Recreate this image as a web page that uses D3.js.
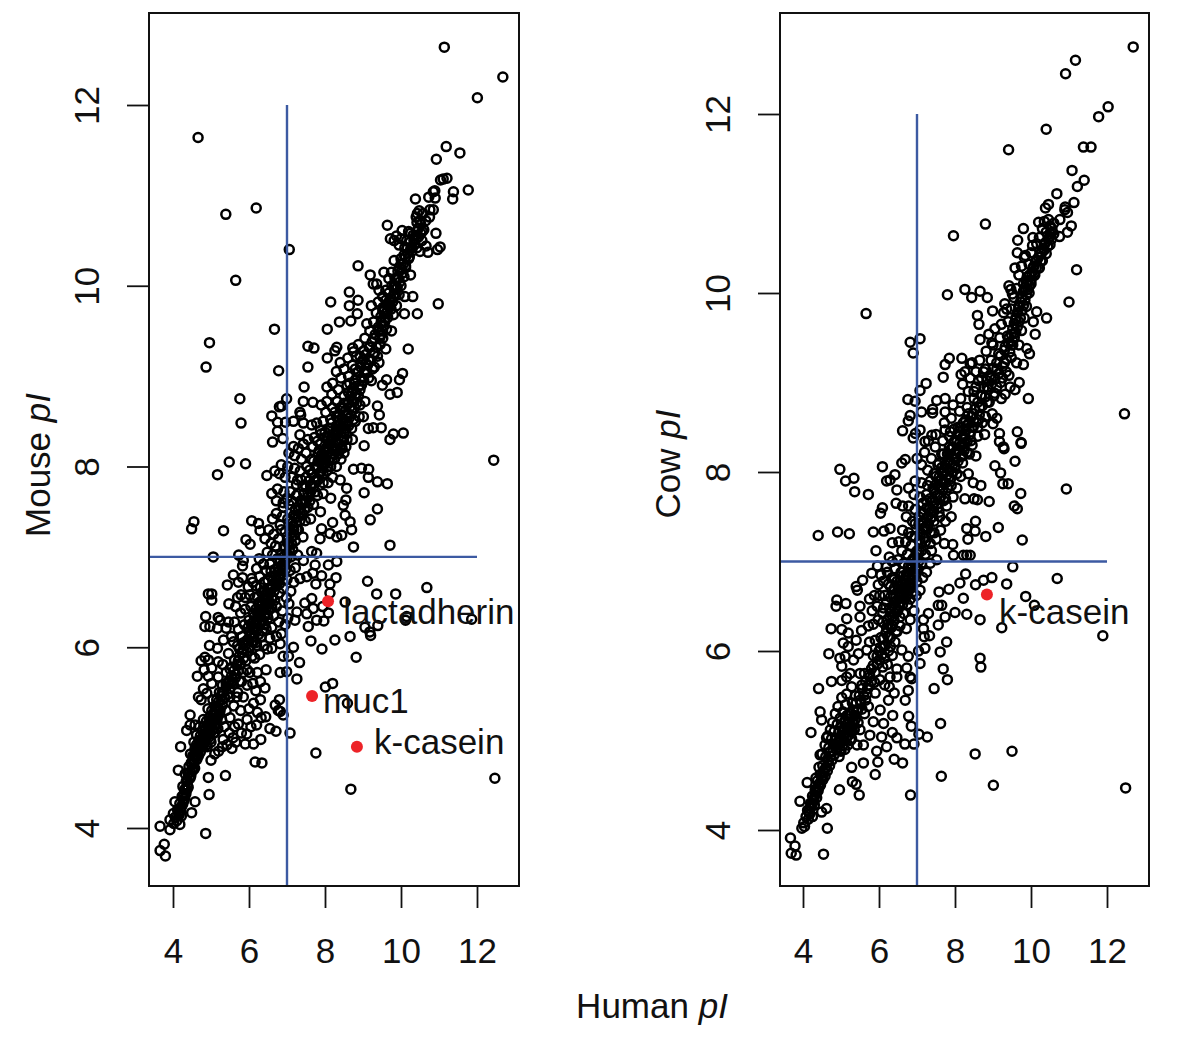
<!DOCTYPE html>
<html><head><meta charset="utf-8">
<script src="https://cdnjs.cloudflare.com/ajax/libs/d3/7.8.5/d3.min.js"></script>
<style>html,body{margin:0;padding:0;background:#fff}svg{display:block}text{font-family:"Liberation Sans",Arial,sans-serif;fill:#111}</style>
</head><body><script>
const xTicks=[4,6,8,10,12];
const yTicks=[4,6,8,10,12];
const mouseSparse=[[11.14,12.64],[12.68,12.31],[12.01,12.08],[4.66,11.64],[11.19,11.54],[11.55,11.47],[10.93,11.40],[11.21,11.19],[11.11,11.18],[11.04,11.17],[11.38,11.04],[11.36,10.96],[11.77,11.06],[10.89,11.05],[10.85,11.04],[10.73,10.98],[10.90,10.97],[10.38,10.96],[10.85,10.84],[10.76,10.84],[10.48,10.83],[10.43,10.80],[10.40,10.76],[10.75,10.76],[6.19,10.86],[5.39,10.79],[7.06,10.40],[9.64,10.67],[10.03,10.61],[10.92,10.58],[11.03,10.43],[10.96,10.40],[10.71,10.37],[10.5,10.38],[10.66,10.44],[5.65,10.06],[8.87,10.22],[9.19,10.12],[9.27,10.02],[9.36,10.02],[8.64,9.93],[8.15,9.82],[8.87,9.84],[8.64,9.78],[8.85,9.69],[8.68,9.61],[8.38,9.6],[8.06,9.52],[6.67,9.52],[4.96,9.37],[4.87,9.1],[6.78,9.06],[7.55,9.33],[7.71,9.31],[8.31,9.32],[8.26,9.28],[8.73,9.31],[8.75,9.27],[8.06,9.2],[8.4,9.15],[7.55,9.1],[10.19,9.3],[10.98,9.8],[10.43,9.69],[10.31,9.88],[10.09,9.69],[10.04,9.03],[9.96,8.96],[9.9,8.82],[9.71,8.8],[9.62,8.96],[9.51,8.9],[7.45,8.88],[5.76,8.75],[5.79,8.48],[6.99,8.75],[6.86,8.67],[6.8,8.66],[6.6,8.56],[6.75,8.49],[6.75,8.39],[6.89,8.31],[6.62,8.27],[6.96,8.49],[7.17,8.5],[7.43,8.72],[7.68,8.71],[7.34,8.6],[7.36,8.57],[7.43,8.48],[7.65,8.46],[7.34,8.35],[7.43,8.25],[7.17,8.22],[9.38,8.67],[9.43,8.57],[9.48,8.43],[9.27,8.43],[9.14,8.42],[9.01,8.55],[10.06,8.37],[9.8,8.36],[9.71,8.3],[9.03,8.23],[12.44,8.07],[5.48,8.05],[5.91,8.03],[5.17,7.91],[6.47,7.9],[9.64,7.81],[9.38,7.83],[9.14,7.88],[9.15,7.97],[8.96,7.98],[8.75,7.97],[9.03,7.71],[9.38,7.53],[9.19,7.41],[8.57,7.76],[8.55,7.63],[8.48,7.57],[8.53,7.46],[8.66,7.39],[8.7,7.3],[8.44,7.24],[8.31,7.22],[8.13,7.26],[8.2,7.38],[7.91,7.31],[7.87,7.2],[9.71,7.13],[8.75,7.11],[4.55,7.39],[4.49,7.31],[5.33,7.29],[6.07,7.4],[6.25,7.37],[6.29,7.29],[5.92,7.19],[6.03,7.14],[5.06,7.0],[5.73,7.02],[5.85,6.96],[5.83,6.9],[6.27,6.98],[6.2,6.87],[5.59,6.8],[5.43,6.69],[5.72,6.72],[5.83,6.77],[6.07,6.76],[5.98,6.67],[4.93,6.59],[5.02,6.59],[5.02,6.52],[5.79,6.58],[5.47,6.48],[4.86,6.34],[4.84,6.23],[4.97,6.23],[5.19,6.33],[5.17,6.21],[5.4,6.21],[5.24,6.3],[5.46,6.28],[5.33,6.08],[4.96,6.02],[5.17,5.99],[5.54,6.12],[5.59,6.06],[4.84,5.89],[4.74,5.85],[4.93,5.86],[5.19,5.84],[5.31,5.81],[5.46,5.93],[4.82,5.75],[5.02,5.77],[4.64,5.68],[4.93,5.68],[5.19,5.67],[4.8,5.54],[5.02,5.6],[4.67,5.45],[4.74,5.42],[4.89,5.49],[4.45,5.25],[4.45,5.14],[4.36,5.08],[4.58,5.14],[4.2,4.9],[4.14,4.64],[4.93,4.56],[5.38,4.58],[4.95,4.37],[6.16,4.73],[6.34,4.72],[5.9,4.93],[6.12,4.93],[6.31,4.98],[5.94,5.04],[7.08,5.05],[6.71,5.07],[6.55,5.1],[6.2,5.14],[6.44,5.23],[6.82,5.29],[6.9,5.25],[6.77,5.3],[6.69,5.36],[6.8,5.42],[7.76,4.83],[8.68,4.43],[12.47,4.55],[4.86,3.94],[3.66,4.02],[3.92,3.98],[3.77,3.82],[3.66,3.75],[3.8,3.69],[4.01,4.16],[4.18,4.04],[3.92,4.09],[4.05,4.29],[4.49,4.17],[4.58,4.29],[7.26,5.65],[6.82,5.72],[6.99,5.73],[7.33,5.83],[6.9,5.9],[7.04,5.9],[7.17,6.0],[6.82,6.04],[6.6,5.99],[8.01,5.56],[8.2,5.6],[8.59,5.38],[8.82,5.89],[7.92,5.98],[7.63,6.07],[8.26,6.08],[8.66,6.12],[7.56,6.23],[7.78,6.3],[7.97,6.29],[8.09,6.38],[7.69,6.43],[7.52,6.37],[7.47,6.49],[7.65,6.54],[7.94,6.45],[7.21,6.3],[7.26,6.39],[8.53,6.5],[9.36,6.59],[9.86,6.59],[9.12,6.73],[10.68,6.66],[10.12,6.3],[10.15,6.34],[11.86,6.31],[9.18,6.17],[9.2,6.13],[9.05,6.22],[9.39,6.24],[8.13,6.7],[8.29,6.77],[7.91,6.79],[7.76,6.7],[7.52,6.78],[7.68,6.82],[7.34,6.76],[8.13,6.6],[7.74,6.91],[8.09,6.91],[8.31,6.95],[7.43,6.96],[7.78,7.04],[7.65,7.06]];
const mouseBandLow=[[4.02,4.05],[4.06,4.12],[4.1,4.08],[4.12,4.2],[4.15,4.16],[4.18,4.27],[4.2,4.22],[4.24,4.35],[4.22,4.13],[4.28,4.3],[4.3,4.42],[4.26,4.46],[4.34,4.38],[4.35,4.52],[4.38,4.47],[4.4,4.6],[4.32,4.6],[4.42,4.68],[4.45,4.55],[4.48,4.72],[4.5,4.65],[4.52,4.8],[4.46,4.82],[4.55,4.75],[4.58,4.88],[4.6,4.78],[4.62,4.92],[4.55,4.95],[4.65,4.84],[4.68,4.97],[4.7,4.88],[4.72,5.02],[4.62,5.03],[4.75,4.92],[4.78,5.08],[4.8,4.98],[4.82,5.12],[4.7,5.12],[4.85,5.02],[4.88,5.18],[4.9,4.9],[4.92,5.08],[4.95,5.22],[4.8,5.2],[4.98,5.12],[5.0,4.95],[5.02,5.3],[5.05,5.18],[5.08,5.05],[5.1,5.35],[4.92,5.32],[5.12,5.25],[5.15,5.42],[5.18,5.1],[5.2,5.32],[5.22,5.5],[5.05,5.42],[5.28,5.2],[5.3,5.42],[5.32,4.98],[5.35,5.12],[5.4,5.3],[5.42,4.92],[5.48,5.05],[5.5,5.22],[5.55,4.88],[5.58,5.0],[5.62,5.12],[5.2,4.85],[5.3,4.9],[5.1,4.82],[5.0,4.75],[5.65,4.95],[5.72,5.15],[5.78,5.3],[5.8,5.05],[5.95,5.2],[6.0,5.32],[6.05,5.12],[6.12,5.38],[6.22,5.28],[6.3,5.42],[6.32,5.22],[5.6,5.35],[5.5,5.45],[5.7,5.5],[5.85,5.45],[5.95,5.58],[5.75,5.62],[5.55,5.62],[5.45,5.6],[5.3,5.58],[5.4,5.72],[5.55,5.78],[5.65,5.7],[5.72,5.85],[5.85,5.72],[5.92,5.85],[6.02,5.72],[6.1,5.6],[6.18,5.52],[6.22,5.72],[6.3,5.62],[6.42,5.55],[6.45,5.75],[6.15,5.88],[6.28,5.92],[6.02,6.0],[5.85,5.98],[5.7,6.02],[5.95,6.08],[6.08,6.15],[6.18,6.05],[5.82,6.12],[5.72,6.2],[5.62,6.28],[5.88,6.25],[6.0,6.3],[6.12,6.28],[6.22,6.2],[6.32,6.12],[6.4,6.02],[6.48,5.98],[6.55,6.1],[6.42,6.25],[6.3,6.35],[6.18,6.42],[6.05,6.45],[5.9,6.42],[5.78,6.38],[5.65,6.45],[5.7,6.55],[5.9,6.55],[6.02,6.58],[6.15,6.55],[6.28,6.5],[6.38,6.42],[6.5,6.32],[6.6,6.22],[6.65,6.35],[6.52,6.48],[6.42,6.58],[6.3,6.66],[6.18,6.68],[6.1,6.72],[6.28,6.78],[6.4,6.72],[6.5,6.65],[6.62,6.55],[6.72,6.45],[6.78,6.28],[6.85,6.15],[6.72,6.12],[6.88,6.4],[6.95,6.25],[7.02,6.32],[6.8,6.6],[6.7,6.7],[6.58,6.78],[6.45,6.85],[6.38,6.92],[6.55,6.92],[6.68,6.86],[6.78,6.78],[6.9,6.65],[6.98,6.55],[7.05,6.48],[7.1,6.62],[7.0,6.75],[6.88,6.88],[6.75,6.98],[6.62,7.02],[6.48,7.05],[6.58,7.15],[6.7,7.12],[6.85,7.02],[6.95,6.95],[7.08,6.85],[7.18,6.72],[7.22,6.88],[7.1,7.0]];
const mouseBandHigh=[[6.42,7.2],[6.52,7.3],[6.65,7.25],[6.78,7.2],[6.92,7.12],[7.02,7.15],[7.15,7.08],[7.28,7.02],[7.22,7.18],[7.08,7.3],[6.95,7.28],[6.82,7.35],[6.62,7.42],[6.72,7.48],[6.88,7.45],[7.02,7.42],[7.15,7.38],[7.3,7.3],[7.42,7.22],[7.48,7.4],[7.35,7.48],[7.22,7.52],[7.05,7.58],[6.9,7.6],[6.72,7.62],[6.6,7.7],[6.75,7.75],[6.92,7.72],[7.08,7.72],[7.25,7.68],[7.38,7.62],[7.55,7.55],[7.62,7.42],[7.7,7.58],[7.55,7.7],[7.42,7.78],[7.28,7.85],[7.12,7.88],[6.95,7.88],[6.8,7.92],[6.68,7.95],[6.85,8.02],[7.02,8.0],[7.2,7.98],[7.35,7.95],[7.5,7.88],[7.65,7.8],[7.8,7.68],[7.88,7.5],[7.95,7.7],[7.82,7.85],[7.68,7.92],[7.52,8.0],[7.38,8.08],[7.2,8.12],[7.05,8.15],[7.3,8.2],[7.5,8.15],[7.65,8.08],[7.8,8.0],[7.95,7.92],[8.08,7.82],[8.15,7.65],[8.2,7.88],[8.08,8.0],[7.95,8.08],[7.82,8.15],[7.68,8.22],[7.55,8.3],[7.72,8.32],[7.88,8.25],[8.0,8.18],[8.15,8.1],[8.3,8.0],[8.4,7.85],[8.42,8.08],[8.28,8.18],[8.12,8.25],[8.0,8.32],[7.88,8.4],[7.78,8.48],[7.95,8.5],[8.1,8.42],[8.22,8.32],[8.35,8.25],[8.5,8.15],[8.58,8.3],[8.42,8.38],[8.3,8.45],[8.15,8.52],[8.02,8.6],[7.9,8.68],[8.05,8.72],[8.2,8.65],[8.35,8.55],[8.48,8.48],[8.62,8.45],[8.72,8.3],[8.75,8.52],[8.6,8.58],[8.48,8.65],[8.32,8.72],[8.18,8.8],[8.05,8.88],[8.2,8.92],[8.35,8.85],[8.5,8.78],[8.62,8.7],[8.78,8.65],[8.9,8.55],[8.88,8.78],[8.72,8.82],[8.58,8.9],[8.42,8.98],[8.3,9.05],[8.5,9.08],[8.62,9.0],[8.78,8.92],[8.92,8.85],[9.05,8.72],[9.02,8.95],[8.88,9.05],[8.72,9.12],[8.6,9.2],[8.82,9.22],[8.95,9.15],[9.1,9.05],[9.22,8.95],[9.3,9.1],[9.15,9.18],[9.02,9.28],[8.88,9.35],[9.05,9.42],[9.18,9.32],[9.3,9.25],[9.42,9.15],[9.45,9.35],[9.3,9.42],[9.18,9.5],[9.1,9.58],[9.28,9.6],[9.4,9.5],[9.52,9.42],[9.6,9.3],[9.62,9.52],[9.48,9.6],[9.35,9.7],[9.22,9.78],[9.4,9.82],[9.52,9.72],[9.65,9.65],[9.75,9.5],[9.8,9.68],[9.65,9.8],[9.52,9.88],[9.42,9.95],[9.6,9.95],[9.75,9.85],[9.88,9.78],[9.95,9.9],[9.82,10.0],[9.68,10.08],[9.55,10.15],[9.75,10.15],[9.88,10.08],[10.0,10.0],[10.1,9.88],[10.08,10.1],[9.95,10.2],[9.82,10.28],[10.0,10.3],[10.12,10.2],[10.25,10.12],[10.22,10.32],[10.1,10.42],[9.95,10.45],[9.82,10.5],[9.72,10.52],[9.88,10.55],[10.0,10.52],[10.15,10.5],[10.3,10.42],[10.38,10.55],[10.25,10.58],[10.42,10.42],[10.55,10.5],[10.52,10.68],[10.42,10.7],[10.6,10.62],[10.58,10.8],[10.65,10.72],[10.2,10.6]];
const mouseCore=[[4.16,4.14],[4.2,4.19],[4.23,4.24],[4.26,4.27],[4.28,4.36],[4.31,4.33],[4.33,4.44],[4.36,4.42],[4.38,4.52],[4.4,4.45],[4.43,4.55],[4.45,4.62],[4.47,4.58],[4.5,4.7],[4.53,4.64],[4.55,4.72],[4.57,4.66],[4.6,4.84],[4.63,4.76],[4.65,4.9],[4.67,4.8],[4.7,4.94],[4.72,4.84],[4.74,4.98],[4.76,4.9],[4.78,4.93],[4.8,5.02],[4.83,4.94],[4.85,5.08],[4.87,4.98],[4.9,5.14],[4.93,5.0],[4.95,5.16],[4.97,5.05],[5.0,5.2],[5.03,5.08],[5.05,5.26],[5.08,5.14],[5.1,5.3],[5.13,5.2],[5.15,5.34],[5.18,5.24],[5.2,5.4],[5.24,5.3],[5.26,5.46],[5.3,5.36],[5.33,5.5],[5.36,5.44],[5.4,5.56],[5.44,5.48],[5.47,5.62],[5.5,5.54],[5.54,5.68],[5.58,5.6],[5.6,5.74],[5.64,5.66],[5.68,5.8],[5.72,5.74],[5.74,5.9],[5.78,5.82],[5.82,5.94],[5.86,5.88],[5.9,6.02],[5.94,5.95],[5.97,6.08],[6.0,6.0],[6.03,6.14],[6.07,6.06],[6.1,6.2],[6.13,6.12],[6.16,6.26],[6.2,6.18],[6.23,6.36],[6.27,6.26],[6.3,6.42],[6.33,6.3],[6.36,6.48],[6.4,6.36],[6.43,6.54],[6.46,6.44],[6.5,6.6],[6.53,6.5],[6.56,6.66],[6.6,6.56],[6.63,6.74],[6.66,6.62],[6.7,6.8],[6.73,6.68],[6.76,6.88],[6.8,6.76],[6.82,6.94],[6.86,6.82],[6.9,7.0],[6.93,6.9],[6.96,7.1],[7.0,6.98],[7.03,7.2],[7.06,7.08],[7.1,7.26],[7.13,7.14],[7.16,7.34],[7.2,7.24],[7.22,7.44],[7.26,7.3],[7.3,7.52],[7.34,7.4],[7.36,7.62],[7.4,7.48],[7.44,7.7],[7.48,7.6],[7.5,7.78],[7.54,7.66],[7.58,7.84],[7.62,7.72],[7.66,7.92],[7.7,7.78],[7.74,8.0],[7.78,7.86],[7.82,8.06],[7.86,7.92],[7.9,8.12],[7.94,7.98],[7.98,8.16],[8.02,8.04],[8.06,8.22],[8.1,8.06],[8.14,8.28],[8.18,8.14],[8.22,8.36],[8.26,8.2],[8.3,8.4],[8.34,8.26],[8.38,8.46],[8.42,8.3],[8.46,8.52],[8.5,8.38],[8.54,8.62],[8.57,8.46],[8.6,8.7],[8.64,8.54],[8.67,8.78],[8.7,8.62],[8.73,8.86],[8.76,8.72],[8.8,8.96],[8.83,8.8],[8.86,9.04],[8.9,8.9],[8.94,9.1],[8.97,8.98],[9.0,9.18],[9.04,9.04],[9.08,9.24],[9.12,9.12],[9.16,9.32],[9.2,9.18],[9.24,9.38],[9.28,9.26],[9.32,9.46],[9.36,9.32],[9.4,9.54],[9.44,9.42],[9.47,9.66],[9.5,9.5],[9.53,9.76],[9.57,9.6],[9.6,9.84],[9.64,9.72],[9.68,9.92],[9.72,9.78],[9.76,10.0],[9.8,9.88],[9.84,10.08],[9.88,9.96],[9.92,10.16],[9.96,10.04],[10.0,10.24],[10.04,10.14],[10.08,10.34],[10.12,10.22],[10.16,10.42],[10.2,10.3],[10.24,10.48],[10.28,10.38],[10.32,10.56],[10.36,10.46],[10.42,10.6],[10.46,10.54],[10.5,10.72],[10.56,10.6],[7.95,7.82],[8.05,7.95],[8.15,8.0],[8.25,8.08],[8.35,8.14],[8.45,8.2],[8.55,8.22],[7.75,7.72],[7.6,7.62],[7.85,8.18],[8.0,8.38],[8.15,8.42],[8.3,8.55],[8.4,8.65],[8.5,8.7],[8.62,8.82],[8.65,8.92],[8.8,9.08],[8.92,9.22],[9.08,9.14],[8.7,8.42],[8.8,8.5],[8.92,8.68],[9.15,8.98],[9.25,9.08],[9.38,9.22],[6.85,7.3],[6.9,7.55],[7.0,7.65],[7.12,7.62],[7.25,7.8],[7.38,7.85],[6.4,6.62],[6.25,6.48],[6.12,6.38],[5.98,6.22],[5.85,6.05],[5.75,5.98],[5.62,5.86],[5.5,5.76],[5.4,5.6],[5.3,5.5],[6.55,6.42],[6.68,6.52],[6.8,6.7],[6.45,6.2],[6.35,6.18],[6.2,6.02],[6.08,5.9],[5.95,5.75],[5.8,5.62],[5.68,5.45]];
const mouseBlobs=[[7.62,7.78],[7.72,7.88],[7.78,7.98],[7.86,8.05],[7.92,8.14],[7.98,8.02],[8.04,8.12],[8.1,8.2],[8.16,8.3],[8.22,8.18],[8.28,8.28],[8.34,8.38],[8.4,8.2],[8.46,8.32],[8.52,8.42],[8.58,8.5],[7.9,7.95],[8.0,8.1],[8.08,8.32],[8.2,8.22],[8.3,8.34],[8.44,8.44],[8.56,8.36],[7.7,8.06],[7.6,7.96],[7.8,8.28],[7.9,8.36],[8.18,8.48],[8.26,8.6],[8.38,8.58],[8.66,8.66],[8.7,8.74],[8.8,8.8],[8.84,8.7],[8.96,8.9],[6.0,6.18],[6.06,6.26],[6.14,6.34],[6.2,6.3],[6.26,6.38],[6.32,6.46],[6.38,6.54],[6.44,6.48],[6.5,6.54],[6.56,6.6],[6.62,6.66],[6.68,6.72],[6.74,6.74],[6.78,6.84],[6.84,6.9],[6.9,6.8],[6.96,6.86],[6.92,6.94],[7.0,7.04],[7.06,7.14],[7.12,7.22],[6.6,6.44],[6.48,6.36],[6.36,6.3],[6.25,6.14],[6.12,6.06],[6.58,6.84],[6.5,6.74],[6.34,6.6],[6.22,6.56],[7.18,7.3],[7.24,7.38],[7.3,7.44],[7.18,7.46],[7.1,7.4],[7.36,7.54],[7.42,7.6],[7.5,7.62],[7.46,7.52],[4.56,4.8],[4.62,4.86],[4.68,4.9],[4.74,4.94],[4.8,4.92],[4.84,5.0],[4.9,5.04],[4.96,5.1],[5.02,5.14],[5.06,5.2],[5.12,5.14],[5.16,5.2],[5.22,5.26],[4.98,4.98],[4.88,4.92],[5.1,5.06],[9.42,9.5],[9.48,9.46],[9.54,9.56],[9.58,9.64],[9.62,9.7],[9.56,9.72],[9.66,9.78],[9.7,9.84],[9.74,9.74],[9.78,9.82],[9.84,9.9],[9.9,9.98],[9.86,10.0],[9.94,10.08],[10.02,10.18],[10.06,10.24],[10.12,10.32],[10.18,10.36],[10.26,10.42],[10.34,10.5],[10.4,10.52],[10.46,10.64],[10.52,10.58]];
const mouseRed=[[8.08,6.51],[7.66,5.46],[8.84,4.9]];
const cowSparse=[[12.69,12.75],[11.17,12.6],[10.91,12.45],[12.03,12.08],[11.78,11.97],[10.4,11.83],[9.41,11.6],[11.58,11.63],[11.38,11.63],[11.08,11.37],[11.4,11.26],[11.22,11.19],[10.68,11.11],[11.13,11.01],[10.9,10.96],[10.89,10.93],[10.96,10.9],[10.46,10.99],[10.38,10.95],[10.76,10.82],[11.06,10.75],[10.96,10.68],[10.75,10.63],[10.46,10.82],[10.2,10.79],[8.8,10.77],[7.96,10.64],[9.8,10.72],[9.65,10.59],[9.64,10.45],[9.82,10.4],[10.04,10.53],[11.2,10.26],[11.0,9.9],[12.46,8.65],[5.66,9.77],[7.8,9.98],[8.26,10.04],[8.44,9.95],[8.66,10.02],[8.85,9.95],[9.47,10.04],[9.51,9.99],[9.31,9.88],[9.36,9.82],[8.99,9.8],[8.59,9.75],[8.63,9.65],[10.41,9.72],[10.15,9.79],[10.11,9.54],[10.06,9.68],[7.08,9.49],[6.82,9.45],[6.9,9.33],[8.66,9.48],[8.89,9.54],[8.97,9.44],[7.85,9.27],[7.74,9.2],[7.69,9.06],[8.18,9.27],[8.4,9.21],[8.16,9.09],[8.26,9.12],[7.24,8.99],[7.08,8.91],[6.76,8.81],[6.95,8.79],[6.82,8.63],[6.77,8.57],[6.62,8.46],[7.12,8.67],[7.52,8.8],[7.41,8.7],[7.41,8.66],[7.74,8.82],[7.74,8.67],[7.74,8.47],[6.96,8.43],[7.08,8.47],[7.39,8.41],[6.9,8.38],[7.21,8.34],[9.93,8.82],[9.69,9.0],[9.58,8.92],[9.45,8.95],[9.32,8.87],[9.8,9.2],[9.96,9.32],[9.89,9.38],[9.64,8.45],[9.74,8.33],[9.27,8.28],[9.17,8.43],[9.1,8.6],[9.0,8.54],[4.97,8.03],[5.12,7.9],[5.34,7.93],[5.36,7.78],[5.72,7.75],[6.09,8.06],[6.2,7.9],[6.42,7.97],[6.6,8.1],[6.69,8.14],[6.09,7.6],[6.04,7.54],[6.45,7.65],[4.4,7.29],[4.91,7.33],[5.22,7.31],[5.85,7.33],[6.13,7.34],[6.29,7.37],[6.35,7.21],[5.92,7.12],[6.27,7.05],[10.93,7.81],[9.73,7.76],[9.56,7.62],[9.64,7.59],[9.58,8.12],[9.26,7.87],[9.4,7.87],[9.2,7.99],[9.05,8.07],[9.29,8.26],[9.74,8.32],[9.17,8.34],[8.9,7.67],[8.59,7.69],[8.48,7.88],[8.68,7.85],[8.5,7.7],[8.26,7.7],[9.14,7.38],[9.77,7.24],[8.81,7.28],[8.53,7.34],[8.54,7.45],[8.31,7.37],[8.34,7.25],[8.31,7.07],[8.4,7.07],[8.22,7.07],[7.94,7.19],[7.96,7.07],[9.52,6.94],[10.69,6.81],[9.36,6.75],[8.97,6.82],[8.75,6.79],[8.54,6.74],[8.28,6.86],[8.13,6.76],[7.84,6.69],[7.58,6.66],[8.22,6.59],[9.86,6.61],[10.09,6.51],[9.23,6.26],[8.66,6.35],[8.31,6.41],[8.0,6.43],[7.74,6.38],[7.56,6.29],[7.65,6.51],[7.56,6.51],[11.89,6.17],[7.3,6.42],[7.17,6.35],[7.17,6.25],[7.33,6.17],[7.19,6.16],[7.78,6.1],[7.61,5.99],[7.21,6.03],[7.04,6.0],[7.08,5.86],[7.69,5.8],[7.8,5.68],[7.45,5.58],[8.66,5.92],[8.68,5.82],[6.77,5.56],[6.69,5.45],[6.78,5.27],[6.85,5.16],[7.62,5.19],[7.27,5.04],[7.05,5.07],[6.92,4.96],[6.68,4.96],[6.62,4.75],[6.4,4.79],[5.97,4.76],[5.9,4.62],[5.48,4.39],[5.4,4.51],[5.3,4.54],[6.83,4.39],[7.64,4.6],[8.53,4.85],[9.5,4.88],[9.01,4.5],[12.49,4.47],[4.64,4.02],[4.54,3.73],[3.67,3.91],[3.79,3.82],[3.69,3.74],[3.82,3.72],[3.92,4.32],[4.11,4.53],[4.96,4.45],[4.62,4.24],[4.49,4.2],[3.97,4.02],[4.04,4.04],[4.14,4.12],[4.25,4.15],[4.21,5.09],[4.45,5.32],[4.49,5.23],[4.62,5.03],[4.45,4.84],[4.41,5.58],[4.75,5.66],[4.68,5.97],[4.97,5.92],[5.11,5.94],[5.02,5.83],[5.24,5.75],[5.02,5.67],[5.15,5.71],[4.74,6.25],[5.02,6.24],[5.19,6.2],[5.06,6.09],[5.19,6.05],[5.4,6.12],[4.87,6.5],[4.89,6.57],[5.13,6.53],[5.15,6.36],[5.5,6.5],[5.5,6.38],[5.54,6.23],[5.4,6.72],[5.43,6.68],[5.57,6.79],[5.81,6.87],[5.96,6.95],[6.2,6.94],[5.98,6.74],[6.29,7.91],[6.47,7.8],[5.33,5.9],[5.46,5.97],[5.68,6.01],[5.5,5.75],[5.76,5.71],[6.47,5.71],[6.29,5.71],[6.47,5.8],[6.73,5.81],[6.82,5.71],[6.86,5.69],[6.77,5.94],[6.6,6.01],[6.27,5.6],[6.4,5.53],[6.25,5.45],[6.36,5.28],[6.12,5.19],[5.85,5.21],[6.03,5.34],[5.9,5.53],[6.35,5.09],[6.07,5.04],[6.2,4.93],[5.94,4.88],[6.47,5.03],[5.76,5.06],[5.59,4.95],[5.59,4.75],[5.28,4.7]];
const cowBandLow=[[4.02,4.08],[4.08,4.15],[4.12,4.22],[4.18,4.18],[4.2,4.3],[4.25,4.38],[4.3,4.28],[4.32,4.45],[4.36,4.36],[4.38,4.55],[4.42,4.48],[4.45,4.62],[4.34,4.58],[4.5,4.58],[4.52,4.72],[4.42,4.7],[4.58,4.68],[4.6,4.82],[4.5,4.85],[4.65,4.78],[4.68,4.92],[4.58,4.95],[4.72,4.88],[4.75,5.02],[4.65,5.05],[4.8,4.95],[4.82,5.1],[4.72,5.12],[4.88,5.02],[4.9,5.18],[4.78,5.2],[4.95,5.1],[4.98,5.25],[4.85,5.3],[5.02,5.15],[5.05,5.32],[4.92,5.38],[5.1,5.22],[5.12,5.4],[5.18,4.95],[5.2,5.12],[5.22,5.3],[5.28,5.02],[5.32,5.22],[5.02,5.48],[5.15,5.52],[5.3,5.42],[5.28,5.6],[5.42,5.32],[5.5,5.12],[5.42,4.95],[5.38,5.5],[5.5,5.45],[5.55,5.62],[5.62,5.3],[5.68,5.52],[5.72,5.38],[5.62,5.75],[5.72,5.62],[5.8,5.8],[5.88,5.65],[5.95,5.85],[6.02,5.68],[6.1,5.82],[6.15,5.62],[6.22,5.85],[5.85,5.95],[6.0,6.0],[6.12,6.05],[6.25,6.0],[6.35,5.95],[6.42,6.1],[6.3,6.15],[6.18,6.2],[6.05,6.15],[5.9,6.12],[5.75,6.1],[5.72,6.28],[5.85,6.3],[5.98,6.35],[6.1,6.32],[6.22,6.35],[6.35,6.28],[6.48,6.22],[6.55,6.38],[6.42,6.42],[6.28,6.48],[6.12,6.48],[5.95,6.5],[5.82,6.45],[5.75,6.58],[5.88,6.62],[6.02,6.62],[6.15,6.62],[6.3,6.6],[6.42,6.55],[6.55,6.5],[6.65,6.42],[6.72,6.25],[6.82,6.35],[6.68,6.58],[6.55,6.65],[6.4,6.7],[6.25,6.75],[6.12,6.78],[6.05,6.85],[6.22,6.88],[6.35,6.82],[6.48,6.78],[6.6,6.75],[6.72,6.7],[6.82,6.58],[6.92,6.45],[6.98,6.62],[6.85,6.75],[6.72,6.85],[6.58,6.88],[6.42,6.92],[6.35,7.0],[6.5,7.02],[6.65,6.98],[6.78,6.95],[6.9,6.88],[7.0,6.78],[7.08,6.68],[7.15,6.82],[7.02,6.92],[6.88,7.02],[6.75,7.08],[6.6,7.12],[6.52,7.22],[6.7,7.22],[6.85,7.18],[7.0,7.08],[7.12,6.98],[7.25,6.88],[7.35,6.98],[7.22,7.08]];
const cowBandHigh=[[6.62,7.35],[6.78,7.32],[6.95,7.28],[7.08,7.2],[7.22,7.22],[7.38,7.12],[7.52,7.02],[7.5,7.25],[7.35,7.32],[7.2,7.38],[7.05,7.42],[6.88,7.45],[6.72,7.5],[6.62,7.62],[6.78,7.62],[6.95,7.58],[7.12,7.55],[7.28,7.5],[7.45,7.45],[7.62,7.35],[7.72,7.2],[7.75,7.45],[7.58,7.55],[7.42,7.62],[7.25,7.68],[7.08,7.72],[6.92,7.75],[6.78,7.82],[6.95,7.9],[7.12,7.88],[7.28,7.85],[7.45,7.8],[7.62,7.72],[7.78,7.62],[7.9,7.5],[7.95,7.72],[7.8,7.82],[7.62,7.9],[7.45,7.98],[7.28,8.02],[7.12,8.08],[7.0,8.15],[7.2,8.22],[7.38,8.15],[7.55,8.08],[7.72,8.0],[7.88,7.92],[8.05,7.82],[8.15,7.95],[8.0,8.05],[7.82,8.12],[7.65,8.2],[7.48,8.28],[7.3,8.35],[7.5,8.42],[7.68,8.35],[7.85,8.28],[8.02,8.2],[8.2,8.1],[8.35,7.98],[8.38,8.2],[8.22,8.28],[8.05,8.35],[7.88,8.45],[7.72,8.55],[7.9,8.6],[8.08,8.5],[8.25,8.42],[8.42,8.35],[8.55,8.18],[8.6,8.4],[8.45,8.5],[8.28,8.58],[8.12,8.68],[7.95,8.75],[8.15,8.82],[8.32,8.72],[8.48,8.65],[8.62,8.58],[8.78,8.42],[8.8,8.62],[8.65,8.72],[8.5,8.82],[8.35,8.9],[8.2,8.98],[8.4,9.05],[8.55,8.95],[8.7,8.85],[8.85,8.78],[8.98,8.65],[9.02,8.85],[8.85,8.95],[8.7,9.05],[8.55,9.12],[8.45,9.22],[8.65,9.25],[8.8,9.15],[8.95,9.05],[9.1,8.95],[9.22,8.82],[9.25,9.05],[9.1,9.15],[8.95,9.25],[8.82,9.35],[9.0,9.42],[9.15,9.32],[9.3,9.22],[9.42,9.08],[9.48,9.28],[9.32,9.4],[9.18,9.5],[9.05,9.6],[9.22,9.65],[9.38,9.52],[9.52,9.42],[9.62,9.22],[9.68,9.42],[9.55,9.55],[9.4,9.68],[9.28,9.78],[9.48,9.82],[9.6,9.7],[9.75,9.58],[9.82,9.72],[9.68,9.85],[9.55,9.95],[9.42,10.08],[9.62,10.05],[9.75,9.95],[9.88,9.85],[9.95,10.0],[9.8,10.1],[9.68,10.2],[9.58,10.28],[9.75,10.3],[9.9,10.18],[10.0,10.1],[10.08,10.22],[9.95,10.32],[9.85,10.42],[10.0,10.45],[10.12,10.35],[10.22,10.28],[10.28,10.45],[10.15,10.55],[10.05,10.62],[10.22,10.62],[10.35,10.55],[10.4,10.68],[10.3,10.72],[10.48,10.62],[10.5,10.75],[10.55,10.68],[10.35,10.8],[10.6,10.78]];
const cowCore=[[4.15,4.2],[4.18,4.24],[4.22,4.26],[4.25,4.3],[4.28,4.34],[4.31,4.38],[4.34,4.42],[4.37,4.46],[4.4,4.44],[4.43,4.52],[4.46,4.5],[4.49,4.6],[4.52,4.56],[4.55,4.64],[4.58,4.6],[4.61,4.7],[4.64,4.66],[4.67,4.76],[4.7,4.72],[4.73,4.82],[4.76,4.78],[4.79,4.88],[4.82,4.84],[4.85,4.94],[4.88,4.9],[4.91,4.98],[4.94,4.95],[4.97,5.04],[5.0,5.0],[5.03,5.1],[5.06,5.04],[5.09,5.14],[5.12,5.08],[5.15,5.18],[5.18,5.12],[5.21,5.24],[5.24,5.16],[5.27,5.3],[5.3,5.2],[5.33,5.34],[5.36,5.28],[5.4,5.42],[5.44,5.34],[5.48,5.5],[5.52,5.42],[5.56,5.58],[5.6,5.5],[5.65,5.66],[5.7,5.58],[5.75,5.74],[5.8,5.66],[5.85,5.84],[5.9,5.76],[5.95,5.94],[6.0,5.9],[6.04,6.04],[6.08,5.96],[6.12,6.14],[6.16,6.06],[6.2,6.26],[6.24,6.16],[6.28,6.38],[6.32,6.26],[6.36,6.5],[6.4,6.34],[6.44,6.6],[6.48,6.44],[6.52,6.66],[6.56,6.54],[6.6,6.72],[6.64,6.6],[6.68,6.8],[6.72,6.66],[6.76,6.88],[6.8,6.76],[6.84,6.96],[6.88,6.84],[6.92,7.04],[6.96,6.92],[7.0,7.12],[7.04,7.0],[7.08,7.24],[7.12,7.12],[7.16,7.36],[7.2,7.26],[7.24,7.48],[7.28,7.36],[7.32,7.58],[7.36,7.48],[7.4,7.68],[7.44,7.56],[7.48,7.76],[7.52,7.64],[7.56,7.84],[7.6,7.72],[7.64,7.92],[7.68,7.8],[7.72,8.0],[7.76,7.88],[7.8,8.04],[7.84,7.94],[7.88,8.1],[7.92,8.0],[7.96,8.16],[8.0,8.06],[8.04,8.24],[8.08,8.12],[8.12,8.32],[8.16,8.18],[8.2,8.38],[8.24,8.24],[8.28,8.46],[8.32,8.34],[8.36,8.54],[8.4,8.42],[8.44,8.62],[8.48,8.5],[8.52,8.7],[8.56,8.56],[8.6,8.78],[8.64,8.64],[8.68,8.86],[8.72,8.74],[8.76,8.94],[8.8,8.84],[8.84,9.02],[8.88,8.92],[8.92,9.08],[8.96,8.98],[9.0,9.16],[9.05,9.04],[9.1,9.22],[9.15,9.1],[9.2,9.3],[9.25,9.18],[9.3,9.36],[9.35,9.26],[9.4,9.44],[9.44,9.34],[9.48,9.54],[9.52,9.46],[9.56,9.66],[9.6,9.56],[9.64,9.78],[9.68,9.68],[9.72,9.9],[9.76,9.8],[9.8,10.02],[9.84,9.92],[9.88,10.12],[9.92,10.04],[9.96,10.2],[10.0,10.14],[10.05,10.28],[10.1,10.2],[10.15,10.36],[10.2,10.28],[10.25,10.44],[10.3,10.36],[10.35,10.48],[10.4,10.44],[10.45,10.6],[10.5,10.54],[10.55,10.72],[10.6,10.66],[7.15,7.65],[7.25,7.75],[7.35,7.9],[7.5,7.95],[7.65,8.05],[7.8,8.2],[7.95,8.28],[8.1,8.45],[8.22,8.55],[8.35,8.65],[8.5,8.9],[8.62,9.02],[8.75,9.12],[7.05,7.5],[6.95,7.42],[6.85,7.28],[7.35,7.2],[7.45,7.32],[7.6,7.5],[7.75,7.7],[7.9,7.85],[8.05,7.98],[8.2,8.18],[8.32,8.22],[8.45,8.3],[8.6,8.5],[8.72,8.55],[8.9,8.78],[9.05,8.88],[9.2,9.0],[9.35,9.12],[6.4,6.8],[6.3,6.72],[6.2,6.55],[6.1,6.42],[6.55,6.28],[6.45,6.22],[6.3,6.05],[6.15,5.92],[6.75,6.52],[6.88,6.66],[5.35,5.12],[5.25,5.0],[5.1,4.9],[5.45,5.2],[5.55,5.35],[5.65,5.45],[4.95,4.82],[5.0,4.88]];
const cowBlobs=[[6.24,6.3],[6.3,6.44],[6.36,6.38],[6.42,6.48],[6.46,6.56],[6.5,6.46],[6.54,6.6],[6.58,6.62],[6.62,6.52],[6.66,6.7],[6.7,6.76],[6.74,6.62],[6.78,6.84],[6.82,6.72],[6.86,6.92],[6.9,6.8],[6.94,6.98],[6.98,6.86],[6.64,6.84],[6.56,6.78],[6.5,6.72],[6.38,6.6],[6.78,6.7],[7.02,7.04],[7.06,7.12],[7.1,7.32],[7.14,7.44],[7.18,7.54],[7.22,7.36],[7.26,7.6],[7.3,7.42],[7.34,7.7],[7.38,7.56],[7.42,7.82],[7.46,7.66],[7.5,7.86],[7.54,7.74],[7.58,7.94],[7.62,7.82],[7.66,8.0],[7.7,7.88],[7.74,8.08],[7.78,7.96],[7.82,8.2],[7.86,8.02],[7.9,8.26],[7.94,8.08],[7.98,8.34],[8.02,8.14],[8.06,8.42],[8.1,8.24],[8.14,8.5],[8.18,8.3],[8.22,8.4],[8.26,8.32],[8.3,8.52],[7.4,7.5],[7.55,7.6],[7.7,7.68],[7.58,8.1],[7.7,8.2],[7.85,8.4],[7.98,8.48],[4.98,4.9],[5.04,4.94],[5.08,5.0],[5.14,5.02],[5.2,5.06],[5.26,5.12],[5.3,5.1],[5.34,5.18],[5.38,5.24],[5.1,5.2],[5.16,5.28],[5.22,5.14],[9.42,9.5],[9.48,9.42],[9.52,9.6],[9.56,9.5],[9.6,9.72],[9.64,9.62],[9.68,9.84],[9.72,9.72],[9.76,9.94],[9.8,9.86],[9.84,10.06],[9.88,9.98],[9.92,10.14],[9.96,10.08],[10.02,10.22],[10.08,10.3],[10.14,10.28],[10.2,10.4],[10.26,10.36],[10.32,10.5],[10.38,10.56],[10.44,10.52],[10.5,10.66],[10.54,10.6]];
const cowRed=[[8.84,6.63]];
const mouseLabels=[["lactadherin",8.48,6.26],["muc1",7.95,5.27],["k-casein",9.29,4.82]];
const cowLabels=[["k-casein",9.16,6.3]];

const W=1200,H=1040;
const svg=d3.select("body").append("svg").attr("width",W).attr("height",H);
const ink="#111",blue="#3c5aa2",red="#ed2328";

function panel(o){
  const x=d3.scaleLinear().domain([4,12]).range(o.xr);
  const y=d3.scaleLinear().domain([4,12]).range(o.yr);
  const g=svg.append("g");
  g.append("g").selectAll("circle").data(o.points).join("circle")
    .attr("cx",d=>x(d[0])).attr("cy",d=>y(d[1])).attr("r",4.5)
    .attr("fill","none").attr("stroke","#000").attr("stroke-width",2.5);
  g.append("line").attr("x1",x(7)).attr("x2",x(7)).attr("y1",o.box[3]).attr("y2",y(12)).attr("stroke",blue).attr("stroke-width",2.4);
  g.append("line").attr("x1",o.box[0]).attr("x2",x(12)).attr("y1",y(7)).attr("y2",y(7)).attr("stroke",blue).attr("stroke-width",2.4);
  g.append("g").selectAll("circle").data(o.red).join("circle")
    .attr("cx",d=>x(d[0])).attr("cy",d=>y(d[1])).attr("r",6).attr("fill",red);
  g.append("g").selectAll("text").data(o.labels).join("text")
    .attr("x",d=>x(d[1])).attr("y",d=>y(d[2])).attr("font-size",35).text(d=>d[0]);
  g.append("rect").attr("x",o.box[0]).attr("y",o.box[1]).attr("width",o.box[2]-o.box[0]).attr("height",o.box[3]-o.box[1])
    .attr("fill","none").attr("stroke",ink).attr("stroke-width",2);
  const bx=d3.axisBottom(x).tickValues(xTicks).tickSize(22).tickPadding(30).tickFormat(d3.format("d"));
  const ax=g.append("g").attr("transform",`translate(0,${o.box[3]})`).call(bx);
  ax.selectAll("path").attr("stroke",ink).attr("stroke-width",2).attr("d",`M${x(4)},0H${x(12)}`);
  ax.selectAll("line").attr("stroke",ink).attr("stroke-width",1.8);
  ax.selectAll("text").attr("font-size",35).attr("fill",ink).attr("font-family","Liberation Sans");
  const by=d3.axisLeft(y).tickValues(yTicks).tickSize(22).tickFormat(d3.format("d"));
  const ay=g.append("g").attr("transform",`translate(${o.box[0]},0)`).call(by);
  ay.selectAll("path").attr("stroke",ink).attr("stroke-width",2).attr("d",`M0,${y(4)}V${y(12)}`);
  ay.selectAll("line").attr("stroke",ink).attr("stroke-width",1.8);
  ay.selectAll("text").attr("font-size",35).attr("fill",ink).attr("font-family","Liberation Sans")
    .attr("text-anchor","middle").attr("dy",0).attr("x",0).attr("y",0)
    .attr("transform","translate(-50,0) rotate(-90)");
  const t=svg.append("text").attr("transform",`translate(${o.ylabX},${o.ylabY}) rotate(-90)`).attr("text-anchor","middle").attr("font-size",35);
  t.append("tspan").text(o.yname+" ");
  t.append("tspan").attr("font-style","italic").text("pI");
}
panel({xr:[173,477],yr:[828,105],box:[149,13,519,886],points:mouseSparse.concat(mouseBandLow,mouseBandHigh,mouseCore,mouseBlobs),red:mouseRed,labels:mouseLabels,yname:"Mouse",ylabX:50,ylabY:465});
panel({xr:[803,1107],yr:[830,114],box:[780,13,1149,886],points:cowSparse.concat(cowBandLow,cowBandHigh,cowCore,cowBlobs),red:cowRed,labels:cowLabels,yname:"Cow",ylabX:680,ylabY:464});
const h=svg.append("text").attr("x",652).attr("y",1018).attr("text-anchor","middle").attr("font-size",35);
h.append("tspan").text("Human ");
h.append("tspan").attr("font-style","italic").text("pI");
</script></body></html>
